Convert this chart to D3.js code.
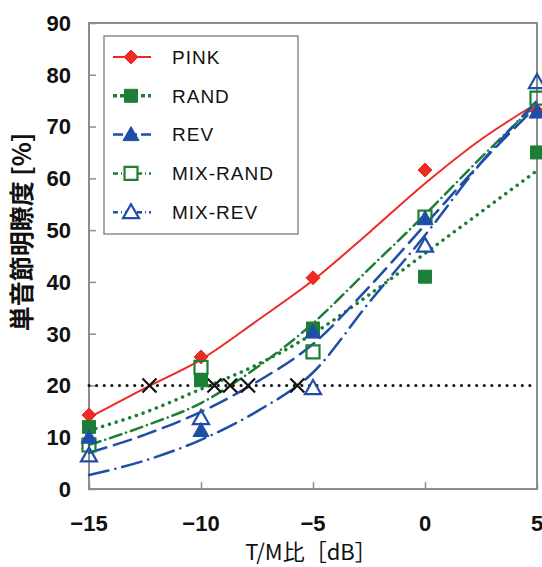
<!DOCTYPE html>
<html>
<head>
<meta charset="utf-8">
<script src="https://cdn.jsdelivr.net/npm/d3@7"></script>
<style>
  body { margin: 0; background: #fff; }
  svg { display: block; }
  text { font-family: "Liberation Sans", Arial, sans-serif; fill: #111; }
  .cjk { font-family: "Noto Sans CJK JP", "Noto Sans", sans-serif; }
</style>
</head>
<body>
<svg id="stage" width="542" height="567"></svg>
<script>
var svg = d3.select("#stage");

// data
var xLevels = [-15, -10, -5, 0, 5];
var xTicks = [-15, -10, -5, 0, 5];
var yTicks = [0, 10, 20, 30, 40, 50, 60, 70, 80, 90];

var seriesNames = ["PINK", "RAND", "REV", "MIX-RAND", "MIX-REV"];

// measured scores (%)
var pinkVals    = [14.3, 25.5, 40.8, 61.6, 73.0];
var randVals    = [12.0, 21.0, 31.0, 41.0, 65.0];
var revVals     = [10.0, 11.3, 30.3, 52.2, 72.8];
var mixRandVals = [8.5, 23.5, 26.5, 52.5, 75.5];
var mixRevVals  = [6.5, 13.7, 19.5, 47.0, 78.6];

// fitted curves
var fitX = [-15, -12.5, -10, -7.5, -5, -2.5, 0, 2.5, 5];
var pinkFit    = [13.8, 19.5, 25.0, 32.5, 40.3, 49.5, 59.0, 67.5, 74.5];
var randFit    = [11.3, 14.8, 19.3, 24.0, 30.0, 37.5, 45.5, 53.5, 61.5];
var revFit     = [7.0, 10.5, 14.9, 20.7, 28.0, 39.0, 51.0, 63.0, 74.0];
var mixRandFit = [8.5, 12.2, 16.6, 23.5, 32.0, 42.5, 53.0, 64.0, 74.5];
var mixRevFit  = [2.7, 5.5, 9.5, 15.0, 22.5, 36.0, 49.0, 63.0, 75.0];

// 20% threshold crossings (dB)
var thresholdY = 20;
var crossX = [-12.3, -9.4, -8.7, -7.9, -5.7];

var xLabel = "T/M比［dB］";
var yLabel = "単音節明瞭度 [%]";

////////////////////////////// STYLES

var red = "#ee2a24", green = "#1d7f35", blue = "#1e4ea8";

var series = [
  {name: seriesNames[0], vals: pinkVals,    fit: pinkFit,    color: red,   dash: null,            width: 2,   marker: "diamond",  filled: true},
  {name: seriesNames[1], vals: randVals,    fit: randFit,    color: green, dash: "0.1 7",         width: 3.5, marker: "square",   filled: true},
  {name: seriesNames[2], vals: revVals,     fit: revFit,     color: blue,  dash: "18 8",          width: 2.5, marker: "triangle", filled: true},
  {name: seriesNames[3], vals: mixRandVals, fit: mixRandFit, color: green, dash: "12 5 0.1 5",    width: 2.5, marker: "square",   filled: false},
  {name: seriesNames[4], vals: mixRevVals,  fit: mixRevFit,  color: blue,  dash: "20 7 0.1 7",    width: 2.5, marker: "triangle", filled: false}
];

var x = d3.scaleLinear().domain([-15, 5]).range([89, 537]);
var y = d3.scaleLinear().domain([0, 90]).range([489, 23]);

var markerPath = function(type, cx, cy){
  if (type === "diamond") {
    var r = 7;
    return "M" + cx + "," + (cy - r) + "L" + (cx + r) + "," + cy + "L" + cx + "," + (cy + r) + "L" + (cx - r) + "," + cy + "Z";
  }
  if (type === "square") {
    var h = 6.5;
    return "M" + (cx - h) + "," + (cy - h) + "h" + (2 * h) + "v" + (2 * h) + "h" + (-2 * h) + "Z";
  }
  var s = 8;
  return "M" + cx + "," + (cy - s) + "L" + (cx + s) + "," + (cy + s * 0.75) + "L" + (cx - s) + "," + (cy + s * 0.75) + "Z";
};

////////////////////////////// FRAME

var frame = svg.append("g");

frame.append("rect")
  .attr("x", x(-15)).attr("y", y(90))
  .attr("width", x(5) - x(-15)).attr("height", y(0) - y(90))
  .attr("fill", "none").attr("stroke", "#8c8c8c").attr("stroke-width", 2);

// inward ticks
var yAxis = d3.axisRight(y).tickValues(yTicks).tickSize(7).tickFormat("");
frame.append("g").attr("transform", "translate(" + x(-15) + ",0)").call(yAxis)
  .call(function(g){ g.select(".domain").remove(); g.selectAll("line").attr("stroke", "#8c8c8c").attr("stroke-width", 1.5); });

var xAxis = d3.axisTop(x).tickValues(xTicks).tickSize(7).tickFormat("");
frame.append("g").attr("transform", "translate(0," + y(0) + ")").call(xAxis)
  .call(function(g){ g.select(".domain").remove(); g.selectAll("line").attr("stroke", "#8c8c8c").attr("stroke-width", 1.5); });

// tick labels
svg.selectAll(".ylab").data(yTicks).enter().append("text")
  .attr("x", 71).attr("y", function(d){ return y(d); })
  .attr("dy", "0.36em").attr("text-anchor", "end")
  .attr("font-size", 22).attr("font-weight", "bold")
  .text(function(d){ return d; });

svg.selectAll(".xlab").data(xTicks).enter().append("text")
  .attr("x", function(d){ return x(d); }).attr("y", 531)
  .attr("text-anchor", "middle")
  .attr("font-size", 22).attr("font-weight", "bold")
  .text(function(d){ return d < 0 ? "\u2212" + Math.abs(d) : d; });

svg.append("text").attr("class", "cjk")
  .attr("x", 311).attr("y", 560)
  .attr("text-anchor", "middle").attr("font-size", 22)
  .text(xLabel);

svg.append("text").attr("class", "cjk")
  .attr("transform", "translate(31,232) rotate(-90)")
  .attr("text-anchor", "middle").attr("font-size", 25).attr("font-weight", "bold")
  .text(yLabel);

////////////////////////////// CURVES

var line = d3.line()
  .x(function(d){ return x(d[0]); })
  .y(function(d){ return y(d[1]); })
  .curve(d3.curveMonotoneX);

var plot = svg.append("g");

series.forEach(function(s){
  plot.append("path")
    .datum(fitX.map(function(v, i){ return [v, s.fit[i]]; }))
    .attr("d", line)
    .attr("fill", "none")
    .attr("stroke", s.color)
    .attr("stroke-width", s.width)
    .attr("stroke-linecap", "round")
    .attr("stroke-dasharray", s.dash);
});

// 20% threshold
plot.append("line")
  .attr("x1", x(-15)).attr("x2", x(5))
  .attr("y1", y(thresholdY)).attr("y2", y(thresholdY))
  .attr("stroke", "#111").attr("stroke-width", 3)
  .attr("stroke-linecap", "round").attr("stroke-dasharray", "0.1 7.5");

plot.selectAll(".cross").data(crossX).enter().append("path")
  .attr("d", function(d){
    var cx = x(d), cy = y(thresholdY), r = 7;
    return "M" + (cx - r) + "," + (cy - r) + "L" + (cx + r) + "," + (cy + r) +
           "M" + (cx - r) + "," + (cy + r) + "L" + (cx + r) + "," + (cy - r);
  })
  .attr("stroke", "#111").attr("stroke-width", 2.2).attr("fill", "none");

// markers (open ones on top)
[0, 1, 3, 2, 4].forEach(function(k){
  var s = series[k];
  plot.selectAll(".m" + k).data(s.vals).enter().append("path")
    .attr("d", function(d, i){ return markerPath(s.marker, x(xLevels[i]), y(d)); })
    .attr("fill", s.filled ? s.color : "none")
    .attr("stroke", s.color)
    .attr("stroke-width", s.filled ? 1 : 2.2);
});

////////////////////////////// LEGEND

var legend = svg.append("g");
legend.append("rect")
  .attr("x", 104).attr("y", 36).attr("width", 194).attr("height", 198)
  .attr("fill", "#fff").attr("stroke", "#8c8c8c").attr("stroke-width", 1.5);

series.forEach(function(s, i){
  var ly = 57 + i * 38.8;
  legend.append("line")
    .attr("x1", 113).attr("x2", 151).attr("y1", ly).attr("y2", ly)
    .attr("stroke", s.color).attr("stroke-width", s.width)
    .attr("stroke-dasharray", s.dash === null ? null : (i === 1 ? "4 3" : (i === 2 ? "10 4" : "5 3 1 3")));
  legend.append("path")
    .attr("d", markerPath(s.marker, 131, ly))
    .attr("fill", s.filled ? s.color : "#fff")
    .attr("stroke", s.color)
    .attr("stroke-width", s.filled ? 1 : 2.2);
  legend.append("text")
    .attr("x", 172).attr("y", ly).attr("dy", "0.36em")
    .attr("font-size", 19).attr("letter-spacing", 1)
    .text(s.name);
});
</script>
</body>
</html>
